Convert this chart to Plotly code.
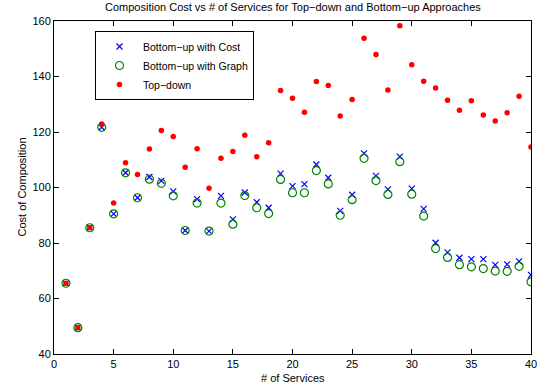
import plotly.graph_objects as go

services = list(range(1, 41))

bottom_up_cost = [65.5, 49.5, 85.5, 121.7, 90.5, 105.3, 96.3, 103.8, 102.4, 98.6,
                  84.5, 95.8, 84.3, 97.0, 88.5, 98.2, 94.7, 92.7, 105.0, 100.5,
                  101.2, 108.3, 103.5, 91.6, 97.4, 112.3, 104.2, 99.3, 111.1, 99.6,
                  92.3, 80.1, 76.6, 74.7, 74.2, 74.2, 72.1, 72.3, 73.4, 68.5]

bottom_up_graph = [65.5, 49.5, 85.5, 121.7, 90.5, 105.3, 96.3, 103.0, 101.5, 97.0,
                   84.5, 94.4, 84.3, 94.4, 86.8, 97.1, 92.7, 90.6, 102.9, 98.1,
                   98.1, 106.1, 101.3, 90.0, 95.6, 110.5, 102.5, 97.5, 109.3, 97.6,
                   89.7, 78.0, 74.8, 72.2, 71.4, 70.8, 69.9, 69.8, 71.6, 66.0]

top_down = [65.5, 49.5, 85.5, 122.9, 94.4, 108.9, 104.7, 113.9, 120.5, 118.4,
            107.3, 114.0, 99.7, 110.5, 113.0, 118.8, 111.1, 116.1, 135.0, 132.2,
            127.1, 138.2, 136.8, 125.8, 131.7, 153.8, 147.9, 135.1, 158.3, 144.2,
            138.3, 135.9, 131.4, 127.8, 131.3, 126.1, 124.0, 126.9, 132.9, 114.6]

x_ticks = [0, 5, 10, 15, 20, 25, 30, 35, 40]
y_ticks = [40, 60, 80, 100, 120, 140, 160]

FONT = "Liberation Sans, Arial, sans-serif"

fig = go.Figure()
fig.add_trace(go.Scatter(
    x=services, y=bottom_up_cost, mode="markers", name="Bottom\u2212up with Cost",
    marker=dict(symbol="x-thin-open", size=6, color="#0000ff",
                line=dict(color="#0000ff", width=1.2)),
))
fig.add_trace(go.Scatter(
    x=services, y=bottom_up_graph, mode="markers", name="Bottom\u2212up with Graph",
    marker=dict(symbol="circle-open", size=8, color="#008000",
                line=dict(color="#008000", width=1.2)),
))
fig.add_trace(go.Scatter(
    x=services, y=top_down, mode="markers", name="Top\u2212down",
    marker=dict(symbol="circle", size=5.5, color="#ff0000",
                line=dict(width=0)),
))

axis_common = dict(
    showline=True, linecolor="black", linewidth=1, mirror="allticks",
    ticks="inside", ticklen=5, tickcolor="black", tickwidth=1,
    showgrid=False, zeroline=False, automargin=False,
    tickfont=dict(family=FONT, size=11, color="black"),
)

fig.update_layout(
    width=547, height=385,
    margin=dict(l=54, r=16, t=21, b=31, autoexpand=False),
    paper_bgcolor="white", plot_bgcolor="white",
    xaxis=dict(range=[0, 40], tickvals=x_ticks, **axis_common),
    yaxis=dict(range=[40, 160], tickvals=y_ticks, **axis_common),
    legend=dict(x=(95 - 54) / 477, y=(354 - 65.5) / 333, xanchor="left", yanchor="middle",
                bordercolor="black", borderwidth=1, bgcolor="white",
                font=dict(family=FONT, size=10.5, color="black"),
                itemwidth=37, tracegroupgap=0),
    showlegend=True,
    annotations=[
        dict(text="Composition Cost vs # of Services for Top\u2212down and Bottom\u2212up Approaches",
             xref="paper", yref="paper", x=0.5, y=(354 - 7) / 333, showarrow=False,
             xanchor="center", yanchor="middle",
             font=dict(family=FONT, size=11, color="black")),
        dict(text="# of Services", xref="paper", yref="paper",
             x=0.5, y=(354 - 378) / 333, showarrow=False,
             xanchor="center", yanchor="middle",
             font=dict(family=FONT, size=11, color="black")),
        dict(text="Cost of Composition", xref="paper", yref="paper",
             x=(21 - 54) / 477, y=0.5, showarrow=False, textangle=-90,
             xanchor="center", yanchor="middle",
             font=dict(family=FONT, size=11, color="black")),
    ],
)

fig.write_html(
    "out.html",
    config={"displayModeBar": False},
    post_script="document.body.style.margin='0';document.body.style.overflow='hidden';",
)
